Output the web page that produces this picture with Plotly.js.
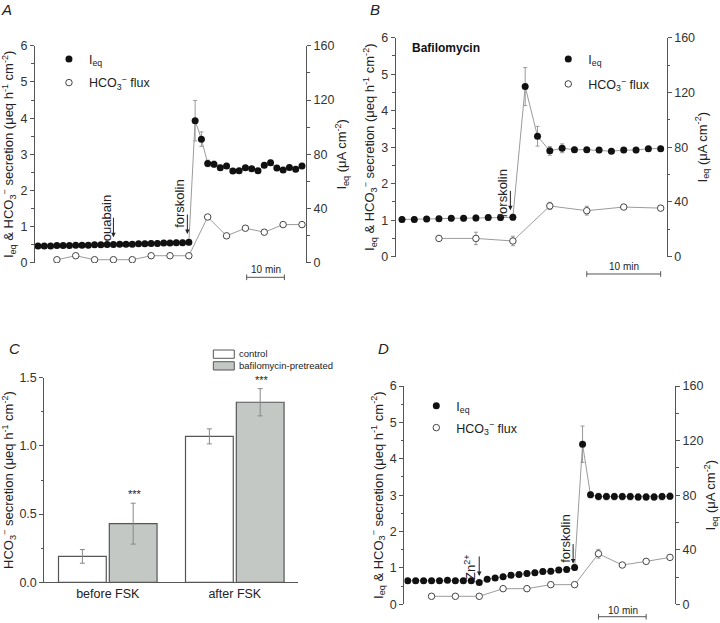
<!DOCTYPE html>
<html>
<head>
<meta charset="utf-8">
<script src="https://cdn.plot.ly/plotly-3.0.1.min.js"></script>
<style>html,body{margin:0;padding:0;background:#fff;}#chart{width:720px;height:623px;}</style>
</head>
<body>
<div id="chart"></div>
<script>
// ---------- DATA ----------
// Panel A (control, ouabain then forskolin); time in s
const tA = [0,100,200,300,400,500,600,700,800,900,1000,1100,1200,1300,1400,1500,1600,1700,1800,1900,2000,2100,2200,2300,2400,2500,2600,2700,2800,2900,3000,3100,3200,3300,3400,3500,3600,3700,3800,3900,4000,4100,4200];
const ieqA = [0.47,0.47,0.47,0.48,0.48,0.48,0.49,0.49,0.49,0.50,0.50,0.51,0.51,0.52,0.52,0.52,0.53,0.53,0.54,0.54,0.55,0.55,0.56,0.56,0.57,
              3.93,3.42,2.75,2.73,2.63,2.68,2.54,2.55,2.63,2.60,2.55,2.70,2.77,2.62,2.57,2.64,2.59,2.68];
const ieqAerr = [0.02,0.02,0.02,0.02,0.02,0.02,0.02,0.02,0.03,0.03,0.03,0.04,0.05,0.05,0.06,0.06,0.06,0.07,0.07,0.07,0.07,0.07,0.07,0.07,0.07,
                 0.56,0.20,0.09,0.08,0.07,0.07,0.06,0.06,0.06,0.06,0.06,0.07,0.07,0.07,0.06,0.06,0.06,0.07];
const tAo = [300,600,900,1200,1500,1800,2100,2400,2700,3000,3300,3600,3900,4200];
const hco3A = [0.09,0.20,0.09,0.09,0.09,0.20,0.20,0.20,1.27,0.75,0.96,0.85,1.06,1.06];
const hco3Aerr = [0.02,0.02,0.02,0.02,0.02,0.02,0.02,0.02,0.03,0.03,0.03,0.03,0.03,0.03];

// Panel B (bafilomycin)
const tB = [0,100,200,300,400,500,600,700,800,900,1000,1100,1200,1300,1400,1500,1600,1700,1800,1900,2000,2100];
const ieqB = [1.02,1.02,1.03,1.04,1.05,1.05,1.06,1.07,1.07,1.08,4.66,3.30,2.90,2.97,2.93,2.93,2.92,2.89,2.92,2.92,2.96,2.96];
const ieqBerr = [0.07,0.07,0.07,0.07,0.07,0.07,0.08,0.08,0.08,0.08,0.52,0.27,0.12,0.12,0.07,0.06,0.07,0.06,0.07,0.07,0.06,0.06];
const tBo = [300,600,900,1200,1500,1800,2100];
const hco3B = [0.50,0.50,0.43,1.39,1.26,1.36,1.33];
const hco3Berr = [0.06,0.17,0.13,0.10,0.12,0.04,0.07];

// Panel C (bar chart)
const catsC = ['before FSK','after FSK'];
const ctrlC = [0.19,1.07];
const ctrlCerr = [0.05,0.055];
const bafC = [0.43,1.32];
const bafCerr = [0.15,0.10];

// Panel D (Zn2+ then forskolin)
const tD = [0,100,200,300,400,500,600,700,800,900,1000,1100,1200,1300,1400,1500,1600,1700,1800,1900,2000,2100,2200,2300,2400,2500,2600,2700,2800,2900,3000,3100,3200,3300];
const ieqD = [0.65,0.65,0.65,0.65,0.65,0.66,0.65,0.65,0.65,0.60,0.69,0.72,0.76,0.80,0.82,0.85,0.87,0.90,0.91,0.94,0.96,1.01,
              4.40,3.01,2.96,2.96,2.96,2.96,2.96,2.95,2.95,2.95,2.96,2.97];
const ieqDerr = [0.05,0.05,0.05,0.05,0.05,0.05,0.05,0.05,0.05,0.05,0.06,0.06,0.06,0.06,0.06,0.07,0.07,0.07,0.07,0.07,0.07,0.08,
                 0.50,0.08,0.09,0.09,0.09,0.09,0.09,0.09,0.09,0.09,0.09,0.09];
const tDo = [300,600,900,1200,1500,1800,2100,2400,2700,3000,3300];
const hco3D = [0.22,0.22,0.22,0.43,0.43,0.54,0.54,1.39,1.08,1.18,1.29];
const hco3Derr = [0.02,0.02,0.02,0.02,0.02,0.02,0.02,0.12,0.03,0.03,0.03];

// ---------- STYLE ----------
const FONT = 'Liberation Sans, Arial, Helvetica, sans-serif';
const AX = '#555';
const LINE = '#9b9b9b';
const IEQ_NAME = 'I<sub>eq</sub>';
const HCO_NAME = 'HCO<sub>3</sub><sup>−</sup> flux';
const LTITLE = 'I<sub>eq</sub> &amp; HCO<sub>3</sub><sup>−</sup> secretion (μeq h<sup>-1</sup> cm<sup>-2</sup>)';
const RTITLE = 'I<sub>eq</sub> (μA cm<sup>-2</sup>)';

function seriesTraces(t, y, err, to, yo, erro, xa, ya, legF, legO) {
  return [
    {x: t, y: y, xaxis: xa, yaxis: ya, mode: 'lines', line: {color: LINE, width: 1}, showlegend: false, hoverinfo: 'skip'},
    {x: to, y: yo, xaxis: xa, yaxis: ya, mode: 'lines', line: {color: LINE, width: 1}, showlegend: false, hoverinfo: 'skip'},
    {x: to, y: yo, xaxis: xa, yaxis: ya, mode: 'markers', name: HCO_NAME, legend: legO,
     marker: {symbol: 'circle', size: 6.5, color: '#fff', line: {color: '#444', width: 1}},
     error_y: {type: 'data', array: erro, color: '#999', thickness: 1, width: 2}},
    {x: t, y: y, xaxis: xa, yaxis: ya, mode: 'markers', name: IEQ_NAME, legend: legF,
     marker: {symbol: 'circle', size: 7, color: '#111'},
     error_y: {type: 'data', array: err, color: '#999', thickness: 1, width: 2}}
  ];
}

const data = [].concat(
  seriesTraces(tA, ieqA, ieqAerr, tAo, hco3A, hco3Aerr, 'x', 'y', 'legend', 'legend2'),
  seriesTraces(tB, ieqB, ieqBerr, tBo, hco3B, hco3Berr, 'x2', 'y3', 'legend3', 'legend4'),
  seriesTraces(tD, ieqD, ieqDerr, tDo, hco3D, hco3Derr, 'x4', 'y6', 'legend5', 'legend6'),
  [
    {x: [], y: [], xaxis: 'x', yaxis: 'y2', showlegend: false},
    {x: [], y: [], xaxis: 'x2', yaxis: 'y4', showlegend: false},
    {x: [], y: [], xaxis: 'x4', yaxis: 'y7', showlegend: false},
    {type: 'bar', x: catsC, y: ctrlC, xaxis: 'x3', yaxis: 'y5', name: 'control', showlegend: false,
     marker: {color: '#ffffff', line: {color: '#555', width: 1.2}},
     error_y: {type: 'data', array: ctrlCerr, color: '#888', thickness: 1, width: 2.5}},
    {type: 'bar', x: catsC, y: bafC, xaxis: 'x3', yaxis: 'y5', name: 'bafilomycin-pretreated', showlegend: false,
     marker: {color: '#c3c8c5', line: {color: '#555', width: 1.2}},
     error_y: {type: 'data', array: bafCerr, color: '#888', thickness: 1, width: 2.5}}
  ]
);

function xHidden(domain, range) {
  return {domain: domain, range: range, visible: false, showgrid: false, zeroline: false};
}
function yLeft(domain, range, dtick, mdtick, anchor, title, fmt) {
  return {domain: domain, range: range, anchor: anchor, side: 'left', showline: true, linecolor: AX, linewidth: 1,
    ticks: 'outside', ticklen: 4, tickwidth: 1, tickcolor: AX, dtick: dtick, tickformat: fmt || '',
    minor: {dtick: mdtick, ticks: 'outside', ticklen: 2.5, tickcolor: AX, showgrid: false},
    showgrid: false, zeroline: false, tickfont: {size: 12.5, color: '#333'},
    title: {text: title, font: {size: 13, color: '#222'}, standoff: 3}};
}
function yRight(range, dtick, mdtick, anchor, overlay, title) {
  return {range: range, anchor: anchor, overlaying: overlay, side: 'right', showline: true, linecolor: AX, linewidth: 1,
    ticks: 'outside', ticklen: 4, tickwidth: 1, tickcolor: AX, dtick: dtick,
    minor: {dtick: mdtick, ticks: 'outside', ticklen: 2.5, tickcolor: AX, showgrid: false},
    showgrid: false, zeroline: false, tickfont: {size: 12.5, color: '#333'},
    title: {text: title, font: {size: 13, color: '#222'}, standoff: 3}};
}
function legendAt(x, y) {
  return {x: x, y: y, xanchor: 'left', yanchor: 'middle', bgcolor: 'rgba(0,0,0,0)', borderwidth: 0,
    font: {size: 12.5, color: '#222'}};
}

// scale bar helper (annotation, not data)
function scaleBar(xa, x0, yPaper) {
  const cap = 0.0045;
  return [
    {type: 'line', xref: xa, yref: 'paper', x0: x0, x1: x0 + 600, y0: yPaper, y1: yPaper, line: {color: AX, width: 1}},
    {type: 'line', xref: xa, yref: 'paper', x0: x0, x1: x0, y0: yPaper - cap, y1: yPaper + cap, line: {color: AX, width: 1}},
    {type: 'line', xref: xa, yref: 'paper', x0: x0 + 600, x1: x0 + 600, y0: yPaper - cap, y1: yPaper + cap, line: {color: AX, width: 1}}
  ];
}
function arrow(xa, ya, x, y, xshift) {
  return {xref: xa, yref: ya, x: x, y: y, text: '', showarrow: true, ax: 0, ay: -21, xshift: xshift,
    arrowhead: 2, arrowsize: 0.9, arrowwidth: 1, arrowcolor: '#222'};
}
function vtext(xa, ya, x, y, xshift, txt) {
  return {xref: xa, yref: ya, x: x, y: y, text: txt, showarrow: false, textangle: -90, xshift: xshift,
    xanchor: 'center', yanchor: 'middle', font: {size: 13, color: '#222'}};
}
function panelLabel(x, y, s) {
  return {xref: 'paper', yref: 'paper', x: x, y: y, text: '<i>' + s + '</i>', showarrow: false,
    xanchor: 'center', yanchor: 'middle', font: {size: 15, color: '#222'}};
}
function barText(x, y, s, size) {
  return {xref: 'paper', yref: 'paper', x: x, y: y, text: s, showarrow: false, xanchor: 'center', yanchor: 'middle',
    font: {size: size, color: '#222'}};
}

const shapes = [].concat(
  scaleBar('x', 3320, 0.5549),
  scaleBar('x2', 1500, 0.5602),
  scaleBar('x4', 2400, 0.0101),
  [
    {type: 'rect', xref: 'paper', yref: 'paper', x0: 0.2963, x1: 0.3254, y0: 0.4249, y1: 0.4382, fillcolor: '#fff', line: {color: '#555', width: 1}},
    {type: 'rect', xref: 'paper', yref: 'paper', x0: 0.2963, x1: 0.3254, y0: 0.4061, y1: 0.4194, fillcolor: '#c3c8c5', line: {color: '#555', width: 1}}
  ]
);

const annotations = [
  panelLabel(0.009, 0.985, 'A'), panelLabel(0.521, 0.985, 'B'), panelLabel(0.02, 0.44, 'C'), panelLabel(0.532, 0.44, 'D'),
  // A
  arrow('x', 'y', 1200, 0.71, 0), vtext('x', 'y', 1200, 1.25, -7, 'ouabain'),
  arrow('x', 'y', 2400, 0.80, -1.5), vtext('x', 'y', 2400, 1.63, -9, 'forskolin'),
  barText(0.369, 0.5682, '10 min', 10),
  // B
  {xref: 'paper', yref: 'paper', x: 0.5694, y: 0.9234, text: '<b>Bafilomycin</b>', showarrow: false, xanchor: 'left', yanchor: 'middle', font: {size: 12, color: '#111'}},
  arrow('x2', 'y3', 900, 1.27, -2.5), vtext('x2', 'y3', 900, 1.74, -10.5, 'forskolin'),
  barText(0.8667, 0.5719, '10 min', 10),
  // D
  arrow('x4', 'y6', 900, 0.78, 0), vtext('x4', 'y6', 900, 1.02, -9.5, 'Zn<sup>2+</sup>'),
  arrow('x4', 'y6', 2100, 1.12, -1.5), vtext('x4', 'y6', 2100, 1.79, -9, 'forskolin'),
  barText(0.8649, 0.0197, '10 min', 10),
  // C
  {xref: 'x3', yref: 'y5', x: catsC[0], y: bafC[0] + bafCerr[0] + 0.065, xshift: 27, text: '***', showarrow: false, font: {size: 11, color: '#222'}},
  {xref: 'x3', yref: 'y5', x: catsC[1], y: bafC[1] + bafCerr[1] + 0.065, xshift: 27, text: '***', showarrow: false, font: {size: 11, color: '#222'}},
  {xref: 'paper', yref: 'paper', x: 0.3296, y: 0.4318, text: 'control', showarrow: false, xanchor: 'left', yanchor: 'middle', font: {size: 9.5, color: '#222'}},
  {xref: 'paper', yref: 'paper', x: 0.3296, y: 0.4128, text: 'bafilomycin-pretreated', showarrow: false, xanchor: 'left', yanchor: 'middle', font: {size: 9.5, color: '#222'}}
];

const layout = {
  width: 720, height: 623,
  margin: {l: 0, r: 0, t: 0, b: 0},
  paper_bgcolor: '#fff', plot_bgcolor: 'rgba(0,0,0,0)',
  font: {family: FONT, color: '#222'},
  barmode: 'group', bargap: 0.2, bargroupgap: 0.06,
  // A
  xaxis: xHidden([0.0486, 0.425], [-48, 4264]),
  yaxis: yLeft([0.5779, 0.9266], [0, 6], 1, 0.5, 'x', LTITLE),
  yaxis2: yRight([0, 160], 40, 20, 'x', 'y', RTITLE),
  // B
  xaxis2: xHidden([0.5496, 0.926], [-51, 2149]),
  yaxis3: yLeft([0.588, 0.9395], [0, 6], 1, 0.5, 'x2', LTITLE),
  yaxis4: yRight([0, 160], 40, 20, 'x2', 'y3', RTITLE),
  // C
  xaxis3: {domain: [0.0615, 0.4143], anchor: 'y5', type: 'category', range: [-0.5, 1.5], showline: true, linecolor: AX, linewidth: 1,
           ticks: '', showgrid: false, zeroline: false, tickfont: {size: 12.5, color: '#222'}},
  yaxis5: yLeft([0.0653, 0.3937], [0, 1.5], 0.5, 0.25, 'x3', 'HCO<sub>3</sub><sup>−</sup> secretion (μeq h<sup>-1</sup> cm<sup>-2</sup>)', '.1f'),
  // D
  xaxis4: xHidden([0.5615, 0.9375], [-43, 3363]),
  yaxis6: yLeft([0.03, 0.3804], [0, 6], 1, 0.5, 'x4', LTITLE),
  yaxis7: yRight([0, 160], 40, 20, 'x4', 'y6', RTITLE),
  legend: legendAt(0.068, 0.9048),
  legend2: legendAt(0.068, 0.8668),
  legend3: legendAt(0.7615, 0.9048),
  legend4: legendAt(0.7615, 0.8647),
  legend5: legendAt(0.5782, 0.3483),
  legend6: legendAt(0.5782, 0.313),
  shapes: shapes,
  annotations: annotations
};

Plotly.newPlot('chart', data, layout, {staticPlot: true, displayModeBar: false});
</script>
</body>
</html>
